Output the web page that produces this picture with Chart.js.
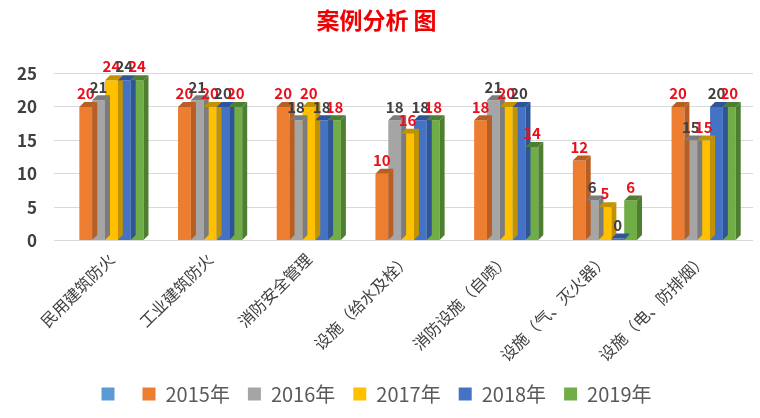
<!DOCTYPE html>
<html>
<head>
<meta charset="utf-8">
<script src="https://cdn.jsdelivr.net/npm/chart.js@4"></script>
<style>
  html, body { margin: 0; padding: 0; background: #fff; }
  #box { width: 760px; height: 418px; }
</style>
</head>
<body>
<div id="box"><canvas id="grafico"></canvas></div>
<script>
const categorias = ['民用建筑防火', '工业建筑防火', '消防安全管理', '设施（给水及栓）', '消防设施（自喷）', '设施（气、灭火器）', '设施（电、防排烟）'];
const anos = ['2015年', '2016年', '2017年', '2018年', '2019年'];
const v2015 = [20, 20, 20, 10, 18, 12, 20];
const v2016 = [21, 21, 18, 18, 21, 6, 15];
const v2017 = [24, 20, 20, 16, 20, 5, 15];
const v2018 = [24, 20, 18, 18, 20, 0, 20];
const v2019 = [24, 20, 18, 18, 14, 6, 20];
const valores = [v2015, v2016, v2017, v2018, v2019];

const CORES = ['#ED7D31', '#A5A5A5', '#FFC000', '#4472C4', '#70AD47'];
const LATERAIS = ['#B85E22', '#7C7C7C', '#C29200', '#2F5597', '#4E7F31'];
const COR_ROTULO = ['#E8101C', '#404040', '#E8101C', '#404040', '#E8101C'];
const FONTE = '"Noto Sans CJK SC", "Noto Sans", sans-serif';

// faces laterais e topo pra imitar o 3D
const efeito3d = {
    id: 'efeito3d',
    afterDatasetsDraw(chart) {
        const ctx = chart.ctx;
        const d = 5;
        chart.data.datasets.forEach(function(ds, i) {
            const meta = chart.getDatasetMeta(i);
            meta.data.forEach(function(bar) {
                const x1 = bar.x + bar.width / 2;
                const x0 = bar.x - bar.width / 2;
                const top = bar.y, base = bar.base;
                ctx.save();
                ctx.fillStyle = LATERAIS[i];
                ctx.beginPath();
                ctx.moveTo(x1, base);
                ctx.lineTo(x1 + d, base - d);
                ctx.lineTo(x1 + d, top - d);
                ctx.lineTo(x1, top);
                ctx.closePath();
                ctx.fill();
                ctx.beginPath();
                ctx.moveTo(x0, top);
                ctx.lineTo(x0 + d, top - d);
                ctx.lineTo(x1 + d, top - d);
                ctx.lineTo(x1, top);
                ctx.closePath();
                ctx.fill();
                ctx.restore();
            });
        });
        // rotulos
        chart.data.datasets.forEach(function(ds, i) {
            const meta = chart.getDatasetMeta(i);
            meta.data.forEach(function(bar, j) {
                ctx.save();
                ctx.font = 'bold 15px ' + FONTE;
                ctx.fillStyle = COR_ROTULO[i];
                ctx.textAlign = 'center';
                ctx.textBaseline = 'bottom';
                ctx.fillText(ds.data[j], bar.x, bar.y - 6);
                ctx.restore();
            });
        });
    }
};

const datasets = [];
for (let i = 0; i < anos.length; i++) {
    datasets.push({
        label: anos[i],
        data: valores[i],
        backgroundColor: CORES[i],
        borderWidth: 0,
        minBarLength: 2,
        categoryPercentage: 0.65,
        barPercentage: 1.0
    });
}

new Chart(document.getElementById('grafico'), {
    type: 'bar',
    data: { labels: categorias, datasets: datasets },
    options: {
        responsive: true,
        maintainAspectRatio: false,
        animation: false,
        layout: { padding: { left: 0, right: 7, top: 0, bottom: 4 } },
        plugins: {
            title: {
                display: true,
                text: '案例分析 图',
                color: '#F00000',
                font: { family: FONTE, size: 23, weight: 'bold' },
                padding: { top: 6, bottom: 40 }
            },
            legend: {
                position: 'bottom',
                labels: {
                    color: '#595959',
                    font: { family: FONTE, size: 20, lineHeight: 0.8 },
                    boxWidth: 13,
                    boxHeight: 13,
                    padding: 18,
                    generateLabels: function(chart) {
                        const itens = Chart.defaults.plugins.legend.labels.generateLabels(chart);
                        itens.unshift({ text: '', fillStyle: '#5B9BD5', strokeStyle: '#5B9BD5', lineWidth: 0, hidden: false, datasetIndex: -1 });
                        return itens;
                    }
                },
                onClick: function() {}
            },
            tooltip: { enabled: false }
        },
        scales: {
            x: {
                grid: { display: false },
                border: { display: false },
                ticks: {
                    color: '#404040',
                    font: { family: FONTE, size: 16 },
                    minRotation: 45,
                    maxRotation: 45,
                    padding: 1
                },
                afterFit: function(scale) {
                    scale.paddingLeft = 10; // o primeiro rotulo pode passar do eixo
                }
            },
            y: {
                min: 0,
                max: 25,
                grid: { color: '#D9D9D9' },
                border: { display: false },
                ticks: {
                    stepSize: 5,
                    color: '#404040',
                    font: { family: FONTE, size: 17, weight: 'bold' },
                    padding: 17
                }
            }
        }
    },
    plugins: [efeito3d]
});
</script>
</body>
</html>
